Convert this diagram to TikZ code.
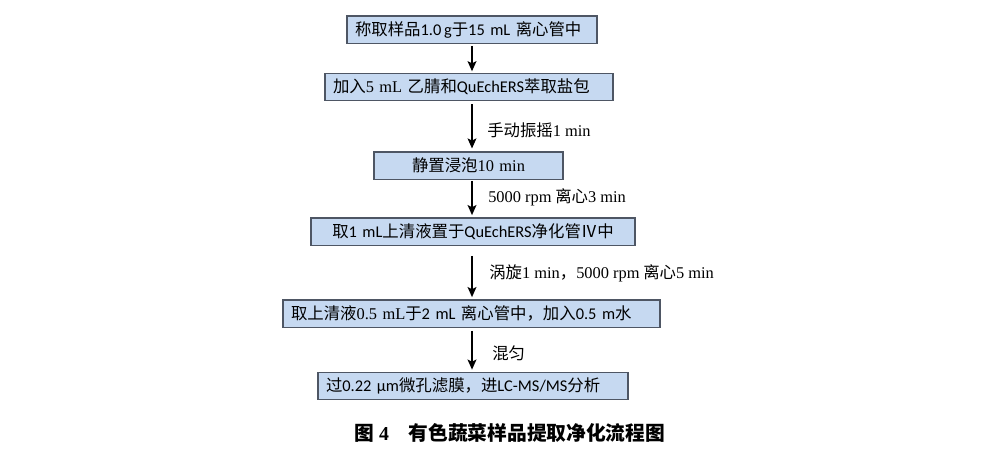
\documentclass[tikz,border=0pt]{standalone}
\usepackage{fontspec}
\setmainfont{Noto Sans CJK SC}
\newfontfamily\tmfont{Liberation Serif}
\newfontfamily\cbfont{Carlito}
\newcommand{\tm}[1]{{\tmfont #1}}
\newcommand{\cb}[1]{{\cbfont #1}}
\usetikzlibrary{arrows.meta}
\definecolor{boxfill}{RGB}{198,217,241}
\definecolor{boxline}{RGB}{78,86,100}

\begin{document}
\begin{tikzpicture}
[x=0.75pt,y=-0.75pt,%
  stepbox/.style={draw=boxline,fill=boxfill,line width=1pt,minimum height=20.5pt,
    inner xsep=6pt,inner ysep=0pt,text width=#1,align=left},%
  flow/.style={line width=1.5pt,-{Stealth[length=7.5pt,width=6.5pt,inset=1.5pt]}},%
  steplabel/.style={anchor=west,inner sep=0pt}]
\fontsize{12.3}{14}\selectfont
\useasboundingbox (0,0) rectangle (1002,457);
\coordinate (ax) at (472,0);
% steps
\node[stepbox=175.5pt] (weigh) at (472,29.5) {称取样品\cb{1.0\,g}于\cb{15 mL} 离心管中};
\node[stepbox=204pt] (extract) at (469,87) {加入\tm{5 mL} 乙腈和\cb{QuEchERS}萃取盐包};
\node[stepbox=129.75pt,align=center] (soak) at (468.5,165.5) {静置浸泡\tm{10 min}};
\node[stepbox=231pt,align=center] (clean) at (473,231.5) {取\cb{1 mL}上清液置于\cb{QuEchERS}净化管Ⅳ中};
\node[stepbox=270.75pt] (dilute) at (471.5,313.5) {取上清液\tm{0.5 mL}于\cb{2 mL} 离心管中，加入\cb{0.5 m}水};
\node[stepbox=220.5pt] (filter) at (473,386) {过\cb{0.22 μm}微孔滤膜，进\cb{LC-MS/MS}分析};
% labels
\node[steplabel] (shake) at (487,130) {手动振摇\tm{1 min}};
\node[steplabel] (spin) at (488,197) {\tm{5000 rpm} 离心\tm{3 min}};
\node[steplabel] (vortex) at (489,273) {涡旋\tm{1 min}，\tm{5000 rpm} 离心\tm{5 min}};
\node[steplabel] (mix) at (492,353) {混匀};
% arrows
\draw[flow,shorten <=1.5pt,shorten >=1pt] (weigh.south -| ax) -- (extract.north -| ax);
\draw[flow,shorten <=2.25pt,shorten >=2pt] (extract.south -| ax) -- (soak.north -| ax);
\draw[flow,shorten <=0.75pt,shorten >=1.5pt] (soak.south -| ax) -- (clean.north -| ax);
\draw[flow,shorten <=7.5pt,shorten >=1.5pt] (clean.south -| ax) -- (dilute.north -| ax);
\draw[flow,shorten <=2.25pt,shorten >=1.5pt] (dilute.south -| ax) -- (filter.north -| ax);
% caption
\node[inner sep=0pt] (caption) at (510,433)
  {\fontsize{14.8}{17}\selectfont\bfseries 图 \tm{4}\quad 有色蔬菜样品提取净化流程图};
\end{tikzpicture}
\end{document}
